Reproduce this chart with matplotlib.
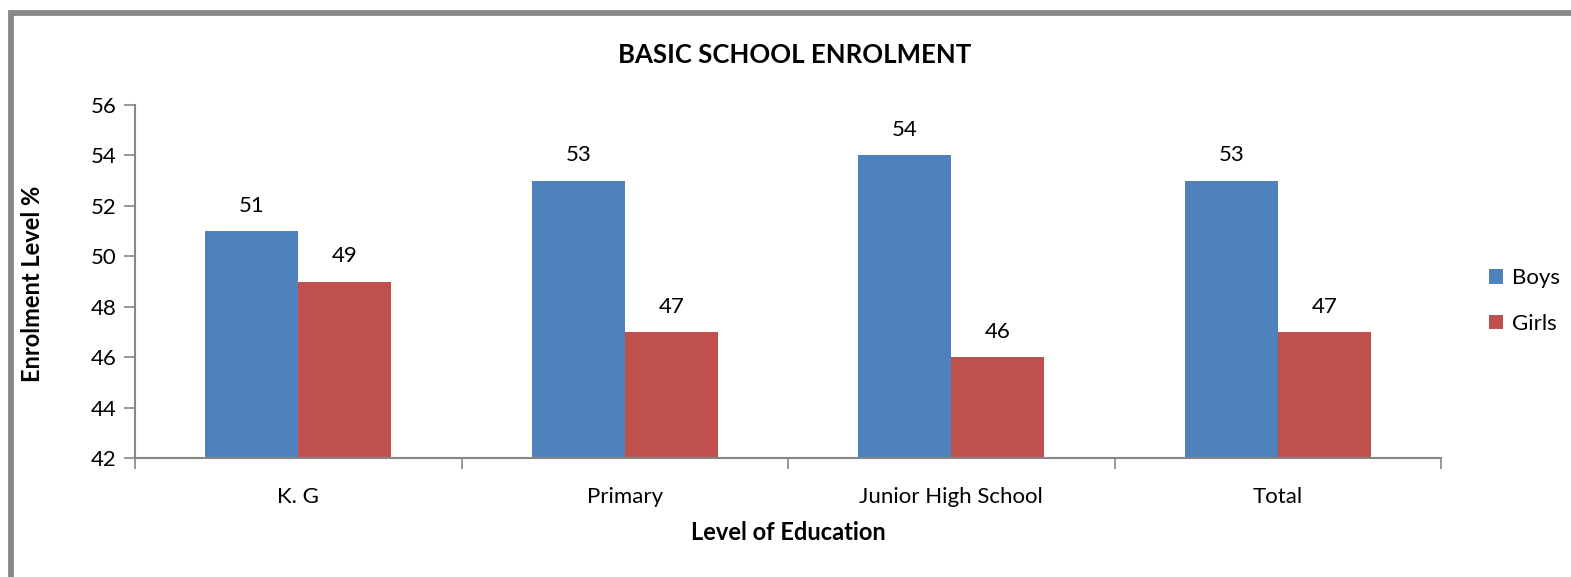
import matplotlib.pyplot as plt
import numpy as np
from matplotlib.patches import Rectangle

plt.rcParams["font.family"] = ["Lato", "DejaVu Sans"]

levels = ["K. G", "Primary", "Junior High School", "Total"]
boys = [51, 53, 54, 53]
girls = [49, 47, 46, 47]

W, H = 1571, 577
fig = plt.figure(figsize=(W / 100, H / 100), dpi=100)

# grey frame running off the right and bottom edges
fig.patches.append(
    Rectangle((10.5 / W, -0.1), 1.2, 1 - 13 / H + 0.1, transform=fig.transFigure,
              fill=False, edgecolor="#888888", linewidth=4.2)
)

ax = fig.add_axes([135 / W, 1 - 458 / H, (1441 - 135) / W, (458 - 105) / H])

x = np.arange(len(levels)) + 0.5
bw = 0.285
b1 = ax.bar(x - bw / 2, boys, bw, color="#4F81BD", label="Boys", bottom=0)
b2 = ax.bar(x + bw / 2, girls, bw, color="#C0504D", label="Girls", bottom=0)
ax.bar_label(b1, fontsize=16, padding=11)
ax.bar_label(b2, fontsize=16, padding=11)

ax.set_ylim(42, 56)
ax.set_xlim(0, len(levels))
ax.set_yticks(range(42, 57, 2))
ax.set_xticks(np.arange(len(levels) + 1))
ax.set_xticklabels([])
ax.set_xticks(x, levels, minor=True)
ax.tick_params(axis="x", which="minor", length=0, labelsize=16, pad=21)
ax.tick_params(axis="x", which="major", length=8, color="#868686", width=1.2)
ax.tick_params(axis="y", length=8, color="#868686", width=1.2, labelsize=16, pad=5)

for s in ["top", "right"]:
    ax.spines[s].set_visible(False)
for s in ["left", "bottom"]:
    ax.spines[s].set_color("#868686")
    ax.spines[s].set_linewidth(1.5)

fig.text(795 / W, 1 - 55 / H, "BASIC SCHOOL ENROLMENT", ha="center", va="center",
         fontsize=18.5, fontweight="bold")
fig.text(788 / W, 1 - 532 / H, "Level of Education", ha="center", va="center",
         fontsize=17, fontweight="bold")
fig.text(33 / W, 1 - 284 / H, "Enrolment Level %", ha="center", va="center",
         rotation=90, fontsize=17, fontweight="bold")

fig.legend(handles=[b1, b2], loc="center left", bbox_to_anchor=(1469 / W, 1 - 301 / H),
           frameon=False, fontsize=16, handlelength=0.62, handleheight=0.62,
           handletextpad=0.4, labelspacing=1.15)

fig.savefig("out.png", dpi=100)
